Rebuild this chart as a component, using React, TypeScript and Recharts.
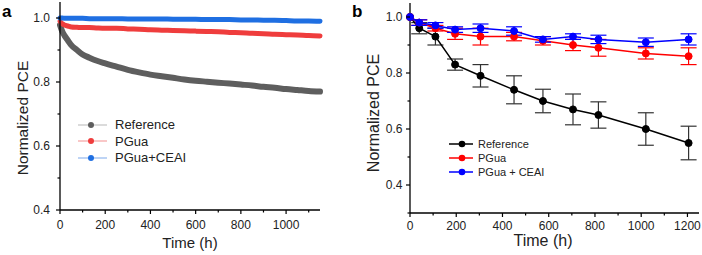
import React from 'react';
import { LineChart, Line, XAxis, YAxis, Legend, ErrorBar } from 'recharts';

// panel a: long-term tracking (h)
const timeA = [0, 10, 20, 35, 50, 75, 100, 130, 160, 200, 250, 300, 350, 400, 450, 500, 550, 600, 650, 700, 750, 800, 850, 900, 950, 1000, 1050, 1100, 1150];
const refA = [0.978, 0.958, 0.945, 0.93, 0.915, 0.9, 0.886, 0.876, 0.867, 0.858, 0.848, 0.838, 0.83, 0.823, 0.818, 0.813, 0.808, 0.804, 0.801, 0.798, 0.795, 0.792, 0.789, 0.785, 0.782, 0.778, 0.775, 0.772, 0.77];
const pguaA = [0.99, 0.982, 0.978, 0.975, 0.972, 0.971, 0.97, 0.97, 0.969, 0.968, 0.968, 0.966, 0.965, 0.963, 0.962, 0.961, 0.96, 0.959, 0.958, 0.957, 0.955, 0.954, 0.952, 0.951, 0.949, 0.948, 0.947, 0.945, 0.944];
const ceaiA = [1.0, 1.0, 0.999, 0.999, 0.999, 0.999, 0.999, 0.998, 0.998, 0.998, 0.998, 0.997, 0.997, 0.997, 0.997, 0.996, 0.996, 0.996, 0.995, 0.995, 0.995, 0.994, 0.994, 0.993, 0.993, 0.992, 0.991, 0.991, 0.99];

// panel b: averaged devices with error bars
const timeB = [0, 40, 110, 195, 305, 450, 575, 705, 815, 1020, 1205];
const refB = [1.0, 0.96, 0.93, 0.83, 0.79, 0.74, 0.7, 0.67, 0.65, 0.6, 0.55];
const refBErr = [0, 0.02, 0.03, 0.02, 0.04, 0.05, 0.042, 0.055, 0.047, 0.058, 0.06];
const pguaB = [1.0, 0.98, 0.96, 0.94, 0.93, 0.93, 0.915, 0.9, 0.89, 0.87, 0.86];
const pguaBErr = [0, 0.01, 0.01, 0.02, 0.03, 0.015, 0.015, 0.02, 0.03, 0.02, 0.03];
const ceaiB = [1.0, 0.98, 0.97, 0.955, 0.96, 0.95, 0.92, 0.93, 0.92, 0.91, 0.92];
const ceaiBErr = [0, 0.01, 0.01, 0.01, 0.015, 0.015, 0.01, 0.01, 0.015, 0.015, 0.02];

const yTicks = [0.3, 0.4, 0.5, 0.6, 0.7, 0.8, 0.9, 1.0];
const yMajor = [0.4, 0.6, 0.8, 1.0];
const xTicksA = [0, 100, 200, 300, 400, 500, 600, 700, 800, 900, 1000, 1100];
const xTicksB = [0, 100, 200, 300, 400, 500, 600, 700, 800, 900, 1000, 1100, 1200];

const labelsA = ['Reference', 'PGua', 'PGua+CEAI'];
const labelsB = ['Reference', 'PGua', 'PGua + CEAI'];
const colorsA = ['#5e5e5e', '#ef3d3d', '#1f6fe2'];
const fadedA = ['#cfcfcf', '#f7b4b4', '#a9c6f2'];
const colorsB = ['#000000', '#ff0000', '#0000ff'];

const FONT = '"Liberation Sans", Arial, sans-serif';

const dataA = timeA.map((t, i) => ({ t, ref: refA[i], pgua: pguaA[i], ceai: ceaiA[i] }));
const dataB = timeB.map((t, i) => ({
    t,
    ref: refB[i], refErr: refBErr[i],
    pgua: pguaB[i], pguaErr: pguaBErr[i],
    ceai: ceaiB[i], ceaiErr: ceaiBErr[i],
}));

// ticks drawn by hand so minor ticks can be shorter and unlabeled
const makeYTick = (gap: number) => (props: any) => {
    const { x, y, payload } = props;
    const major = yMajor.some(v => Math.abs(v - payload.value) < 1e-6);
    return (
        <g>
            <line x1={x} x2={x - (major ? 4 : 2.5)} y1={y} y2={y} stroke="#000" strokeWidth={1.2} />
            {major && (
                <text x={x - gap} y={y + 4.3} textAnchor="end" fontSize={12} fontFamily={FONT} fill="#222">
                    {payload.value.toFixed(1)}
                </text>
            )}
        </g>
    );
};

const makeXTick = (dy: number) => (props: any) => {
    const { x, y, payload } = props;
    const major = payload.value % 200 === 0;
    return (
        <g>
            <line x1={x} x2={x} y1={y} y2={y + (major ? 4 : 2.5)} stroke="#000" strokeWidth={1.2} />
            {major && (
                <text x={x} y={y + dy} textAnchor="middle" fontSize={12} fontFamily={FONT} fill="#222">
                    {payload.value}
                </text>
            )}
        </g>
    );
};

const YTitle = ({ x, y, size }: { x: number; y: number; size: number }) => (props: any) => (
    <text x={x} y={y} transform={`rotate(-90 ${x} ${y})`} textAnchor="middle" fontSize={size} fontFamily={FONT} fill="#222">
        Normalized PCE
    </text>
);

const XTitle = ({ x, y, size }: { x: number; y: number; size: number }) => (props: any) => (
    <text x={x} y={y} textAnchor="middle" fontSize={size} fontFamily={FONT} fill="#222">
        Time (h)
    </text>
);

const LegendA = () => (
    <div style={{ fontFamily: FONT, fontSize: 13, color: '#222' }}>
        {labelsA.map((name, i) => (
            <div key={name} style={{ display: 'flex', alignItems: 'center', height: 16.6 }}>
                <svg width={29} height={10} style={{ marginRight: 8 }}>
                    <line x1={0} x2={29} y1={5} y2={5} stroke={fadedA[i]} strokeWidth={1.5} />
                    <circle cx={13} cy={5} r={3} fill={colorsA[i]} />
                </svg>
                <span>{name}</span>
            </div>
        ))}
    </div>
);

const LegendB = () => (
    <div style={{ fontFamily: FONT, fontSize: 11, color: '#222' }}>
        {labelsB.map((name, i) => (
            <div key={name} style={{ display: 'flex', alignItems: 'center', height: 14 }}>
                <svg width={24} height={10} style={{ marginRight: 5 }}>
                    <line x1={0} x2={24} y1={5} y2={5} stroke={colorsB[i]} strokeWidth={1.5} />
                    <circle cx={13} cy={5} r={3.3} fill={colorsB[i]} />
                </svg>
                <span>{name}</span>
            </div>
        ))}
    </div>
);

export default function App() {
    const keys = ['ref', 'pgua', 'ceai'];
    return (
        <div style={{ position: 'absolute', left: 0, top: 0, width: 702, height: 255, background: '#fff' }}>
            <div style={{ position: 'absolute', left: 2, top: 2, fontFamily: FONT, fontWeight: 'bold', fontSize: 17 }}>a</div>
            <div style={{ position: 'absolute', left: 352, top: 2, fontFamily: FONT, fontWeight: 'bold', fontSize: 17 }}>b</div>

            <div style={{ position: 'absolute', left: 0, top: 0 }}>
                <LineChart width={351} height={255} data={dataA} margin={{ top: 2, right: 31, bottom: 0, left: 0 }}>
                    <XAxis dataKey="t" type="number" domain={[0, 1150]} ticks={xTicksA} interval={0}
                        tickSize={0} tickMargin={0} tickLine={false} tick={makeXTick(19)}
                        axisLine={{ stroke: '#000', strokeWidth: 1.3 }} height={45}
                        label={XTitle({ x: 190, y: 247.5, size: 15 })} />
                    <XAxis xAxisId="top" orientation="top" type="number" domain={[0, 1150]} height={0}
                        tick={false} tickLine={false} axisLine={{ stroke: '#000', strokeWidth: 1.3 }} />
                    <YAxis type="number" domain={[0.4, 1.05]} ticks={yTicks.slice(1)} interval={0} width={60}
                        tickSize={0} tickMargin={0} tickLine={false} tick={makeYTick(10)}
                        axisLine={{ stroke: '#000', strokeWidth: 1.3 }}
                        label={YTitle({ x: 28, y: 118, size: 15.5 })} />
                    <YAxis yAxisId="right" orientation="right" type="number" domain={[0.4, 1.05]} width={0}
                        tick={false} tickLine={false} axisLine={{ stroke: '#000', strokeWidth: 1.3 }} />
                    <Legend layout="vertical" align="center" verticalAlign="middle" content={<LegendA />}
                        wrapperStyle={{ position: 'absolute', left: 78, top: 116.5, width: 'auto', height: 'auto' }} />
                    {keys.map((k, i) => (
                        <Line key={k} dataKey={k} type="monotone" stroke={colorsA[i]} strokeWidth={i === 0 ? 6 : 5}
                            strokeLinecap="round" dot={false} isAnimationActive={false} />
                    ))}
                </LineChart>
            </div>

            <div style={{ position: 'absolute', left: 351, top: 0 }}>
                <LineChart width={351} height={255} data={dataB} margin={{ top: 3, right: 3, bottom: 0, left: 0 }}>
                    <XAxis dataKey="t" type="number" domain={[0, 1250]} ticks={xTicksB} interval={0}
                        tickSize={0} tickMargin={0} tickLine={false} tick={makeXTick(17)}
                        axisLine={{ stroke: '#000', strokeWidth: 1.3 }} height={42}
                        label={XTitle({ x: 192, y: 246, size: 16 })} />
                    <XAxis xAxisId="top" orientation="top" type="number" domain={[0, 1250]} height={0}
                        tick={false} tickLine={false} axisLine={{ stroke: '#000', strokeWidth: 1.3 }} />
                    <YAxis type="number" domain={[0.3, 1.05]} ticks={yTicks} interval={0} width={59}
                        tickSize={0} tickMargin={0} tickLine={false} tick={makeYTick(7.5)}
                        axisLine={{ stroke: '#000', strokeWidth: 1.3 }}
                        label={YTitle({ x: 28, y: 113, size: 16 })} />
                    <YAxis yAxisId="right" orientation="right" type="number" domain={[0.3, 1.05]} width={0}
                        tick={false} tickLine={false} axisLine={{ stroke: '#000', strokeWidth: 1.3 }} />
                    <Legend layout="vertical" align="center" verticalAlign="middle" content={<LegendB />}
                        wrapperStyle={{ position: 'absolute', left: 98, top: 137, width: 'auto', height: 'auto' }} />
                    {keys.map((k, i) => (
                        <Line key={k} dataKey={k} type="linear" stroke={colorsB[i]} strokeWidth={1.5}
                            dot={{ r: 3.5, fill: colorsB[i], stroke: colorsB[i], strokeWidth: 1 }}
                            isAnimationActive={false}>
                            <ErrorBar dataKey={`${k}Err`} direction="y" width={8} strokeWidth={1.2}
                                stroke={i === 0 ? '#333' : colorsB[i]} isAnimationActive={false} />
                        </Line>
                    ))}
                </LineChart>
            </div>
        </div>
    );
}
